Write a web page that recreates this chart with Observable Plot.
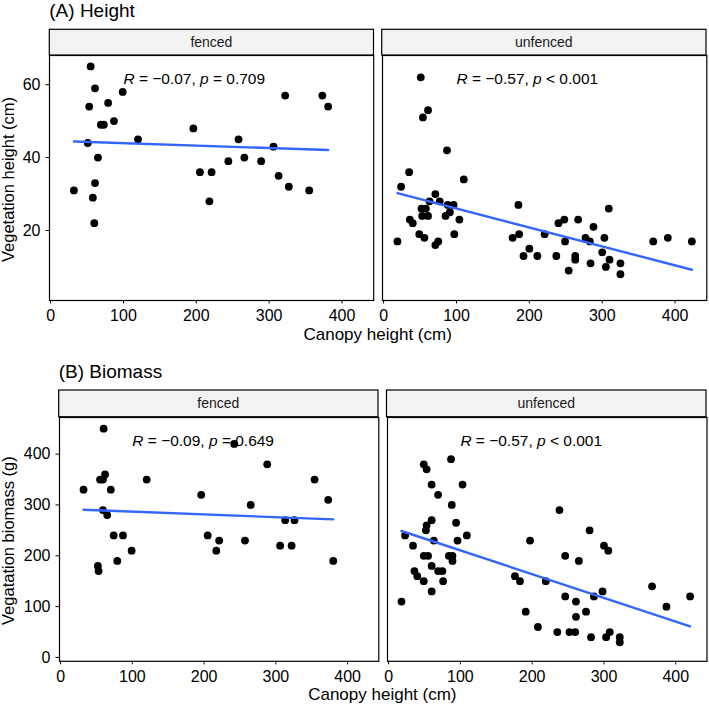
<!DOCTYPE html>
<html><head><meta charset="utf-8">
<script src="https://cdn.jsdelivr.net/npm/d3@7"></script>
<script src="https://cdn.jsdelivr.net/npm/@observablehq/plot@0.6"></script>
<style>
body{margin:0;background:#fff;}
#root{position:relative;width:709px;height:707px;overflow:hidden;background:#fff;}
#root svg{position:absolute;}
</style></head><body><div id="root"></div>
<script>
// ---------- data ----------
const facetLabels = ["fenced", "unfenced"];
const rowTitles = ["(A) Height", "(B) Biomass"];
const xTitle = "Canopy height (cm)";
const yTitles = ["Vegetation height (cm)", "Vegatation biomass (g)"];
const xTicks = [0, 100, 200, 300, 400];
const heightTicks = [20, 40, 60];
const biomassTicks = [0, 100, 200, 300, 400];

const heightFencedCanopy = [32,55,61,53,51,79,99,69,73,87,65,61,58,60,120,196,205,221,218,244,258,266,289,306,313,322,327,355,373,381];
const heightFencedValue  = [31,65,59,54,44,55,58,49,49,50,40,33,29,22,45,48,36,36,28,39,45,40,39,43,35,57,32,31,57,54];

const heightUnfencedCanopy = [51,61,54,87,35,110,24,71,63,77,88,96,52,58,53,61,85,91,104,36,40,49,56,97,19,71,75,185,177,186,192,200,211,221,237,240,248,249,254,263,263,267,277,283,284,288,300,303,305,309,310,325,325,370,390,423];
const heightUnfencedValue  = [62,53,51,42,36,34,32,30,28,28,27,27,26,26,24,24,24,25,23,23,22,19,18,19,17,16,17,27,18,19,13,15,13,19,13,22,23,17,9,13,12,23,18,17,11,21,14,18,10,26,12,11,8,17,18,17];

const biomassFencedCanopy = [32,60,55,59,62,70,59,65,74,87,79,99,52,53,120,196,205,217,221,242,257,265,288,306,313,322,326,354,373,380];
const biomassFencedValue  = [330,450,350,350,360,330,290,280,240,240,190,210,180,170,350,320,240,210,230,420,230,300,380,220,270,220,270,350,310,190];

const biomassUnfencedCanopy = [49,53,87,60,103,69,88,94,60,53,52,23,63,96,109,34,49,55,84,89,89,60,69,75,36,40,49,76,60,18,238,197,280,300,306,246,265,176,183,219,298,286,246,261,191,261,275,208,235,252,260,282,303,308,322,322,367,387,420];
const biomassUnfencedValue  = [380,370,390,340,340,320,300,265,270,260,250,240,230,230,240,220,200,200,200,200,190,180,170,170,170,160,150,150,130,110,290,230,250,220,210,200,190,160,150,150,130,120,120,110,90,80,90,60,50,50,50,40,40,50,40,30,140,100,120];

const corR = ["−0.07", "−0.57", "−0.09", "−0.57"];
const corP = ["= 0.709", "< 0.001", "= 0.649", "< 0.001"];

// ---------- layout ----------
const FONT = '"Liberation Sans", Arial, Helvetica, sans-serif';
const xDomain = [-1.5, 443.5];
const rows = [
  {title: rowTitles[0], yTitle: yTitles[0], yDomain: [0.8, 68], yTicks: heightTicks, labelY: 61.6,
   stripTop: 29.3, top: 55, bottom: 300, panels: [[49.3, 373.5], [381.7, 706]],
   titleY: 17, xTitleY: 339.5, yTitleX: 13.5,
   data: [[heightFencedCanopy, heightFencedValue], [heightUnfencedCanopy, heightUnfencedValue]], cor: [0, 1]},
  {title: rowTitles[1], yTitle: yTitles[1], yDomain: [-7.5, 472], yTicks: biomassTicks, labelY: 426,
   stripTop: 390, top: 416.7, bottom: 660.5, panels: [[58.7, 378], [386.5, 706]],
   titleY: 378, xTitleY: 699.5, yTitleX: 13.5,
   data: [[biomassFencedCanopy, biomassFencedValue], [biomassUnfencedCanopy, biomassUnfencedValue]], cor: [2, 3]}
];

const root = document.getElementById("root");

function styleTexts(svg) {
  svg.querySelectorAll("text").forEach(t => {
    const s = t.textContent;
    const m = s.match(/^R = (.+), p (.+)$/);
    if (!m) {
      t.style.fontSize = "16px";
      t.setAttribute("fill", "#000");
      return;
    }
    t.style.fontSize = "15.5px";
    while (t.firstChild) t.removeChild(t.firstChild);
    const parts = [["R", true], [" = " + m[1] + ", ", false], ["p", true], [" " + m[2], false]];
    for (const [txt, it] of parts) {
      const ts = document.createElementNS("http://www.w3.org/2000/svg", "tspan");
      ts.textContent = txt;
      if (it) ts.setAttribute("font-style", "italic");
      t.appendChild(ts);
    }
  });
}

rows.forEach(row => {
  row.panels.forEach(([x0, x1], j) => {
    const showY = j === 0;
    const ml = showY ? 50 : 6, mr = 3, mt = 10, mb = 30;
    const w = x1 - x0, h = row.bottom - row.top;
    const [cx, vy] = row.data[j];
    const data = cx.map((c, i) => ({x: c, y: vy[i]}));
    const k = row.cor[j];
    const label = [{x: 100, y: row.labelY, text: "R = " + corR[k] + ", p " + corP[k]}];
    const svg = Plot.plot({
      width: w + ml + mr, height: h + mt + mb,
      marginLeft: ml, marginRight: mr, marginTop: mt, marginBottom: mb,
      style: {fontFamily: FONT, fontSize: "16px", color: "#000", background: "transparent", overflow: "visible"},
      x: {domain: xDomain, ticks: xTicks, tickSize: 3.5, tickPadding: 5.5, label: null},
      y: {domain: row.yDomain, ticks: row.yTicks, tickSize: 3.5, tickPadding: 5.5, label: null, axis: showY ? "left" : null},
      marks: [
        Plot.dot(data, {x: "x", y: "y", r: 3.9, fill: "#000", stroke: "none"}),
        Plot.linearRegressionY(data, {x: "x", y: "y", stroke: "#3366FF", strokeWidth: 2.4, ci: 0}),
        Plot.text(label, {x: "x", y: "y", text: "text", textAnchor: "start", fontSize: 15.5, fill: "#000"}),
        Plot.frame({stroke: "#000", strokeWidth: 1.2})
      ]
    });
    styleTexts(svg);
    svg.style.left = (x0 - ml) + "px";
    svg.style.top = (row.top - mt) + "px";
    root.appendChild(svg);
  });
});

// overlay: strips, titles, axis titles
const ov = d3.select(root).append("svg")
  .attr("width", 709).attr("height", 707)
  .style("left", "0px").style("top", "0px").style("pointer-events", "none")
  .attr("font-family", FONT);

rows.forEach(row => {
  row.panels.forEach(([x0, x1], j) => {
    ov.append("rect").attr("x", x0).attr("y", row.stripTop)
      .attr("width", x1 - x0).attr("height", row.top - row.stripTop)
      .attr("fill", "#F2F2F2").attr("stroke", "#000").attr("stroke-width", 1.2);
    ov.append("text").attr("x", (x0 + x1) / 2).attr("y", (row.stripTop + row.top) / 2)
      .attr("dy", "0.35em").attr("text-anchor", "middle").attr("font-size", 14)
      .attr("fill", "#1a1a1a").text(facetLabels[j]);
  });
  const L = row.panels[0][0], R = row.panels[1][1];
  ov.append("text").attr("x", L).attr("y", row.titleY).attr("font-size", 19)
    .attr("fill", "#000").text(row.title);
  ov.append("text").attr("x", (L + R) / 2).attr("y", row.xTitleY).attr("text-anchor", "middle")
    .attr("font-size", 17).attr("fill", "#000").text(xTitle);
  ov.append("text").attr("transform", `translate(${row.yTitleX},${(row.top + row.bottom) / 2 + 2}) rotate(-90)`)
    .attr("text-anchor", "middle").attr("font-size", 16.5).attr("fill", "#000").text(row.yTitle);
});
</script>
</body></html>
